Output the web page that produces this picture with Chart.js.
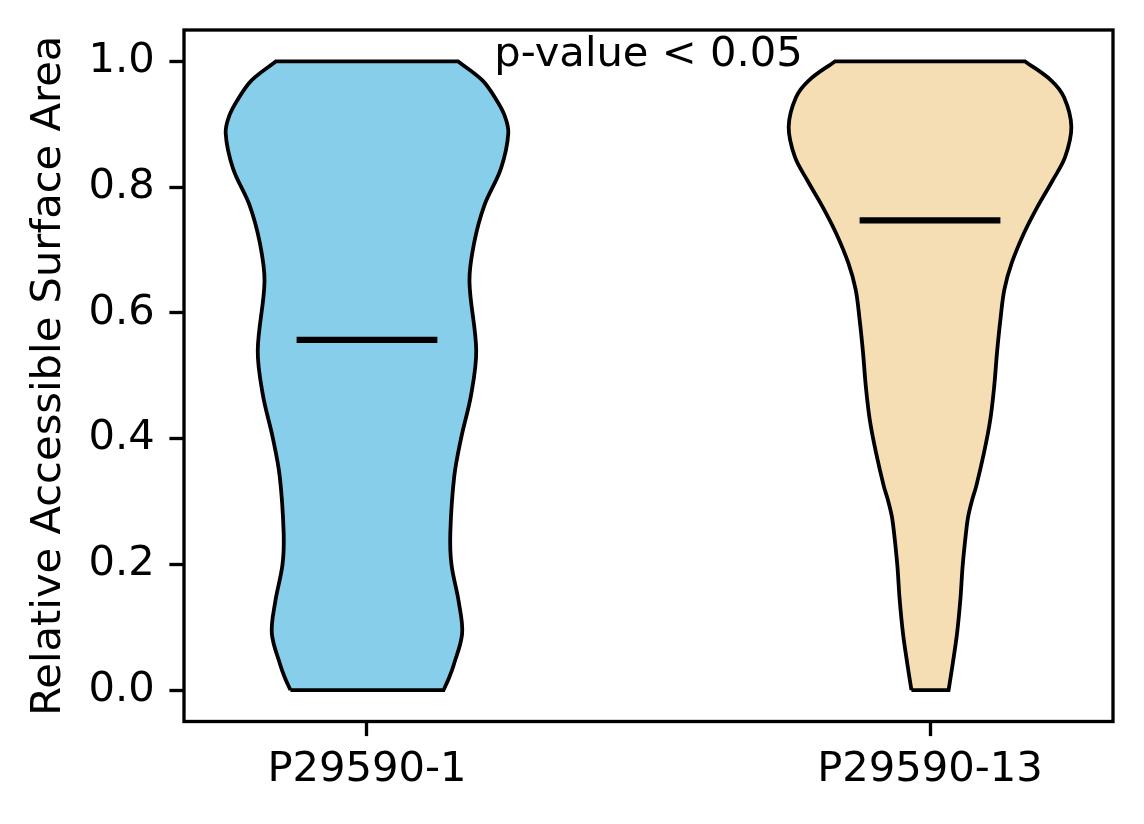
<!DOCTYPE html>
<html><head><meta charset="utf-8">
<script src="https://cdn.jsdelivr.net/npm/chart.js@4"></script>
<style>html,body{margin:0;padding:0;background:#fff;} canvas{display:block;}</style>
</head><body>
<canvas id="c" width="1144" height="824"></canvas>
<script>
// ---- data ----
const categories = ['P29590-1', 'P29590-13'];
const positions = [1, 2];
const medians = [0.557, 0.747];
const yTicks = [0.0, 0.2, 0.4, 0.6, 0.8, 1.0];
const annotationText = 'p-value < 0.05';

// violin 1 (P29590-1): density outline, half-widths in x-axis units at each y level
const levels1 = [0.00, 0.02, 0.04, 0.09, 0.14, 0.20, 0.25, 0.34, 0.40, 0.47, 0.54, 0.65, 0.71, 0.77, 0.83, 0.886, 0.915, 0.943, 0.97, 1.00];
const halfWidths1 = [0.136, 0.146, 0.154, 0.169, 0.163, 0.150, 0.148, 0.155, 0.167, 0.185, 0.194, 0.182, 0.190, 0.208, 0.238, 0.251, 0.244, 0.227, 0.205, 0.162];

// violin 2 (P29590-13)
const levels2 = [0.00, 0.04, 0.09, 0.145, 0.198, 0.251, 0.277, 0.303, 0.324, 0.378, 0.430, 0.483, 0.537, 0.589, 0.637, 0.679, 0.727, 0.769, 0.811, 0.848, 0.896, 0.943, 0.97, 1.00];
const halfWidths2 = [0.033, 0.040, 0.048, 0.054, 0.058, 0.064, 0.068, 0.075, 0.082, 0.096, 0.107, 0.114, 0.119, 0.125, 0.132, 0.145, 0.167, 0.191, 0.218, 0.240, 0.251, 0.238, 0.215, 0.169];

// ---- styling ----
const fillColors = ['#87CEEB', '#F5DEB3'];
const FONT = {family: 'DejaVu Sans', size: 41.67, lineHeight: 1.2};
const medianHalfLen = 0.125;
const annotationPos = {x: 1.5, y: 0.993};

// closed outline: left side bottom->top, flat top, right side top->bottom, flat bottom.
// corner points are repeated so the spline keeps sharp corners.
function outline(pos, levels, hw) {
  const n = levels.length;
  const pts = [];
  for (let i = 0; i < n; i++) pts.push({x: pos - hw[i], y: levels[i]});
  pts.push({x: pos - hw[n - 1], y: levels[n - 1]});
  for (let i = n - 1; i >= 0; i--) {
    pts.push({x: pos + hw[i], y: levels[i]});
    if (i === n - 1) pts.push({x: pos + hw[i], y: levels[i]});
  }
  pts.push({x: pos + hw[0], y: levels[0]});
  pts.push({x: pos - hw[0], y: levels[0]});
  return pts;
}

const violinData = [[levels1, halfWidths1], [levels2, halfWidths2]];
const datasets = [];
positions.forEach((p, i) => {
  datasets.push({
    data: outline(p, violinData[i][0], violinData[i][1]),
    fill: 'shape',
    backgroundColor: fillColors[i],
    borderColor: '#000',
    borderWidth: 3.8,
    borderJoinStyle: 'miter',
    pointRadius: 0,
    tension: 0.35,
    order: 2
  });
});
positions.forEach((p, i) => {
  datasets.push({
    data: [{x: p - medianHalfLen, y: medians[i]}, {x: p + medianHalfLen, y: medians[i]}],
    fill: false,
    borderColor: '#000',
    borderWidth: 6.25,
    borderCapStyle: 'butt',
    pointRadius: 0,
    tension: 0,
    order: 0
  });
});

const framePlugin = {
  id: 'frame',
  afterDatasetsDraw(chart) {
    const {ctx, chartArea: a} = chart;
    ctx.save();
    ctx.strokeStyle = '#000';
    ctx.lineWidth = 3.33;
    ctx.strokeRect(a.left, a.top, a.right - a.left, a.bottom - a.top);
    ctx.restore();
  }
};
const annotationPlugin = {
  id: 'annot',
  afterDatasetsDraw(chart) {
    const {ctx, scales} = chart;
    ctx.save();
    ctx.font = FONT.size + 'px "DejaVu Sans"';
    ctx.fillStyle = '#000';
    ctx.textAlign = 'center';
    ctx.textBaseline = 'alphabetic';
    ctx.fillText(annotationText, scales.x.getPixelForValue(annotationPos.x), scales.y.getPixelForValue(annotationPos.y));
    ctx.restore();
  }
};

Chart.defaults.color = '#000';
const tickGrid = {display: true, drawOnChartArea: false, drawTicks: true, tickLength: 14.6, tickWidth: 3.33, tickColor: '#000'};

new Chart(document.getElementById('c'), {
  type: 'line',
  data: {datasets},
  plugins: [framePlugin, annotationPlugin],
  options: {
    indexAxis: 'y',
    responsive: false,
    animation: false,
    devicePixelRatio: 1,
    layout: {padding: {top: 30, right: 31, left: 0, bottom: 0}},
    plugins: {legend: {display: false}, tooltip: {enabled: false}},
    scales: {
      x: {
        type: 'linear', min: 0.675, max: 2.325,
        afterBuildTicks: s => { s.ticks = positions.map(v => ({value: v})); },
        afterFit: s => { s.height = 102.5; s.paddingLeft = 0; s.paddingRight = 0; },
        ticks: {callback: v => categories[positions.indexOf(v)], padding: 9.5, font: FONT, color: '#000', maxRotation: 0, autoSkip: false},
        grid: tickGrid,
        border: {display: false}
      },
      y: {
        type: 'linear', min: -0.05, max: 1.05,
        afterBuildTicks: s => { s.ticks = yTicks.map(v => ({value: v})); },
        afterFit: s => { s.width = 184; s.paddingTop = 0; s.paddingBottom = 0; },
        ticks: {callback: v => v.toFixed(1), padding: 14.6, font: FONT, color: '#000', autoSkip: false},
        grid: tickGrid,
        border: {display: false},
        title: {display: true, text: 'Relative Accessible Surface Area', font: FONT, color: '#000', padding: {top: 24, bottom: 0}}
      }
    }
  }
});
</script>
</body></html>
